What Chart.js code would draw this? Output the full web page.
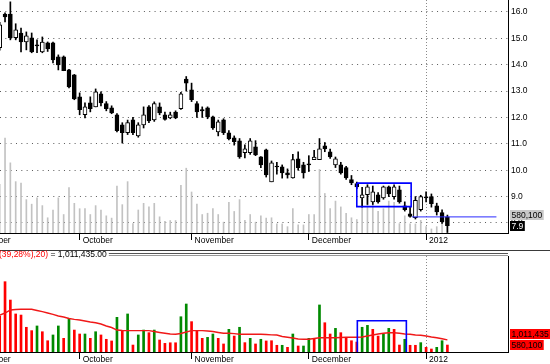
<!DOCTYPE html>
<html lang="en">
<head>
<meta charset="UTF-8">
<title>Price and volume</title>
<script src="https://cdn.jsdelivr.net/npm/chart.js"></script>
<style>
  html, body { margin: 0; padding: 0; background: #fff; }
  #wrap { position: relative; width: 550px; height: 364px; overflow: hidden; }
  #top { position: absolute; left: 0; top: 0; }
  #bot { position: absolute; left: 0; top: 248px; }
</style>
</head>
<body>
<div id="wrap">
  <canvas id="top" width="550" height="248"></canvas>
  <canvas id="bot" width="550" height="116"></canvas>
</div>
<script>
// one candle per trading day, index 0 = 12 Sep 2011
let open = [14.64, 15.92, 15.92, 15.02, 15.2, 14.86, 15.02, 14.73, 14.48, 14.83,
  14.83, 14.3, 14.3, 13.8, 13.61, 12.78, 12.1, 12.55, 12.4, 12.89,
  12.52, 12.36, 12.1, 11.72, 11.42, 11.91, 11.3, 11.72, 12.4, 11.91,
  12.4, 12.1, 11.98, 12.2, 12.33, 13.45, 13.05, 12.52, 12.3, 12.36,
  12.02, 11.45, 11.91, 11.42, 11.23, 11.11, 10.66, 10.66, 10.89, 10.51,
  10.77, 9.56, 10.15, 10.13, 9.9, 9.71, 10.43, 10.2, 10.22, 10.4,
  10.4, 10.92, 10.7, 10.2, 10.2, 10.1, 9.64, 9.49, 8.95, 9.07,
  8.8, 9.07, 8.95, 9.37, 9.0, 9.26, 8.65, 8.35, 8.2, 8.5,
  8.97, 9.0, 8.65, 8.39, 8.23];
let close = [15.51, 15.81, 15.02, 15.32, 14.86, 15.09, 14.48, 14.71, 14.86, 14.6,
  14.18, 13.99, 13.77, 13.16, 12.7, 12.29, 12.4, 12.33, 12.97, 12.55,
  12.33, 12.17, 11.5, 11.42, 11.8, 11.42, 11.72, 12.1, 11.87, 12.52,
  12.17, 11.92, 12.1, 11.98, 12.89, 13.3, 12.67, 12.21, 12.25, 12.02,
  11.6, 11.83, 11.42, 11.19, 11.08, 10.5, 10.81, 11.11, 10.58, 10.2,
  9.82, 10.28, 10.12, 9.9, 9.82, 10.4, 10.1, 9.9, 10.2, 10.5,
  10.81, 10.81, 10.5, 10.43, 9.9, 9.71, 9.52, 9.37, 9.07, 9.37,
  9.18, 8.8, 9.37, 9.1, 9.37, 8.8, 8.5, 8.25, 8.86, 9.0,
  8.95, 8.73, 8.42, 8.05, 7.9];
let high = [15.6, 15.96, 16.38, 15.55, 15.39, 15.24, 15.2, 14.94, 15.05, 14.86,
  14.86, 14.37, 14.33, 13.82, 13.63, 12.93, 12.55, 12.78, 13.08, 12.97,
  12.6, 12.44, 12.15, 11.8, 11.9, 12.0, 11.8, 12.4, 12.45, 12.59,
  12.55, 12.2, 12.2, 12.25, 12.95, 13.55, 13.3, 12.6, 12.4, 12.4,
  12.05, 11.9, 11.95, 11.5, 11.3, 11.2, 10.96, 11.2, 11.12, 10.52,
  10.8, 10.35, 10.3, 10.2, 10.05, 10.6, 10.7, 10.3, 10.55, 10.75,
  11.2, 11.05, 10.8, 10.5, 10.3, 10.15, 9.8, 9.55, 9.35, 9.45,
  9.4, 9.15, 9.4, 9.4, 9.45, 9.4, 8.8, 8.62, 9.0, 9.05,
  9.18, 9.1, 8.75, 8.5, 8.3];
let low = [14.55, 15.62, 14.94, 14.94, 14.48, 14.56, 14.45, 14.45, 14.45, 14.5,
  14.07, 13.8, 13.77, 13.12, 12.67, 12.1, 11.98, 12.21, 12.4, 12.44,
  12.25, 12.14, 11.45, 11.03, 11.35, 11.35, 11.25, 11.6, 11.8, 11.85,
  12.1, 11.9, 11.95, 11.95, 12.3, 13.0, 12.6, 12.0, 12.0, 11.95,
  11.55, 11.3, 11.35, 11.15, 10.95, 10.45, 10.47, 10.6, 10.55, 10.1,
  9.74, 9.56, 9.85, 9.7, 9.7, 9.7, 10.0, 9.7, 9.95, 10.4,
  10.4, 10.7, 10.45, 10.1, 9.85, 9.65, 9.45, 9.3, 8.6, 8.7,
  8.7, 8.75, 8.9, 9.0, 8.9, 8.75, 8.45, 8.22, 8.15, 8.45,
  8.8, 8.6, 8.3, 7.98, 7.64];
let volume = [3000000, 5860000, 4330000, 3170000, 3080000, 2060000, 1780000, 2170000, 1690000, 940000,
  1420000, 2170000, 1140000, 2810000, 1830000, 1500000, 1500000, 1140000, 1690000, 1420000,
  1060000, 920000, 2890000, 1750000, 3170000, 580000, 1420000, 1830000, 1610000, 1830000,
  1000000, 720000, 770000, 770000, 2940000, 4000000, 2530000, 1780000, 1140000, 1220000,
  1500000, 1140000, 670000, 1890000, 1330000, 2060000, 780000, 1140000, 670000, 1060000,
  920000, 940000, 560000, 560000, 390000, 1500000, 500000, 500000, 1140000, 1140000,
  3920000, 2440000, 1500000, 1970000, 1610000, 1220000, 940000, 830000, 2060000, 2220000,
  1890000, 1330000, 1500000, 1970000, 1890000, 580000, 1060000, 560000, 560000, 780000,
  390000, 250000, 390000, 940000, 580100];
// 1 = green volume bar, 0 = red
let volUp = [0, 0, 0, 0, 0, 0, 0, 1, 0, 0,
  1, 1, 0, 1, 0, 0, 1, 0, 1, 0,
  0, 0, 1, 0, 1, 0, 1, 1, 0, 1,
  0, 0, 0, 0, 1, 1, 0, 0, 0, 1,
  1, 0, 0, 1, 0, 1, 0, 1, 0, 1,
  0, 0, 0, 1, 0, 1, 0, 1, 1, 0,
  1, 0, 0, 1, 0, 0, 0, 0, 1, 1,
  0, 0, 1, 1, 0, 0, 1, 0, 0, 1,
  0, 0, 1, 1, 0];
// 20 day volume average as drawn
let volMA = [3080000, 3250000, 3500000, 3540000, 3560000, 3560000, 3560000, 3460000, 3360000, 3250000,
  3130000, 3000000, 2920000, 2790000, 2720000, 2670000, 2580000, 2500000, 2440000, 2330000,
  2170000, 2040000, 1830000, 1790000, 1780000, 1780000, 1780000, 1780000, 1780000, 1710000,
  1630000, 1560000, 1500000, 1480000, 1540000, 1670000, 1780000, 1780000, 1780000, 1750000,
  1710000, 1630000, 1560000, 1560000, 1530000, 1480000, 1480000, 1480000, 1480000, 1480000,
  1460000, 1430000, 1420000, 1290000, 1230000, 1170000, 1080000, 1060000, 1060000, 1130000,
  1190000, 1190000, 1190000, 1190000, 1210000, 1230000, 1230000, 1230000, 1250000, 1330000,
  1420000, 1500000, 1560000, 1610000, 1610000, 1560000, 1500000, 1480000, 1420000, 1390000,
  1330000, 1250000, 1190000, 1100000, 1011435];

let monthTicks = [-6.3, 15, 36, 58, 80];
let monthLabels = ['September', 'October', 'November', 'December', '2012'];
let yearTick = 80;
let priceTicks = [8, 9, 10, 11, 12, 13, 14, 15, 16];

// drawn objects: box over the December range, support line after it
let boxDays = [67, 77.2];
let boxPrices = [9.51, 8.62];
let boxVolDays = [67.1, 76.3];
let boxVolTop = 2610000;
let lineDays = [77.35, 93.2];
let linePrice = 8.23;

let maTitle = ['(39,28%),20)', ' = 1,011,435.00'];

const FONT_FAMILY = 'Arial, "Liberation Sans", sans-serif';
const FONT_SIZE = 8.5;
const FONT = FONT_SIZE + 'px ' + FONT_FAMILY;
Chart.defaults.font.family = FONT_FAMILY;
Chart.defaults.font.size = FONT_SIZE;
Chart.defaults.color = '#000';

const X_MIN = 0.056, X_MAX = 95.37;
let days = open.map((v, i) => i);
let last = days.length - 1;

function fmt(n) { return Math.round(n).toLocaleString('en-US'); }

function tag(ctx, x, yc, text, bg, fg) {
    ctx.save();
    ctx.font = FONT;
    let w = ctx.measureText(text).width + 3;
    ctx.fillStyle = bg;
    ctx.fillRect(x, Math.round(yc - 5), w, 10);
    ctx.fillStyle = fg;
    ctx.textBaseline = 'middle';
    ctx.fillText(text, x + 1.5, Math.round(yc - 5) + 5.5);
    ctx.restore();
}

function xScale(height, pad) {
    return {
        type: 'linear', min: X_MIN, max: X_MAX, offset: false,
        afterBuildTicks: s => { s.ticks = monthTicks.map(v => ({ value: v })); },
        ticks: {
            autoSkip: false, maxRotation: 0, align: 'start', labelOffset: 3, padding: pad,
            callback: (v, i) => monthLabels[i]
        },
        grid: {
            offset: false,
            color: c => (c.tick && c.tick.value === yearTick) ? '#8a8a8a' : 'rgba(0,0,0,0)',
            tickColor: '#000', tickLength: 7, lineWidth: 1
        },
        border: { color: '#000', dash: [1, 2] },
        afterFit: s => { s.height = height; s.paddingLeft = 0; s.paddingRight = 0; }
    };
}

// top panel: candles over grey volume
let topTags = {
    id: 'topTags',
    afterDraw(chart) {
        let { ctx, chartArea, scales } = chart;
        let yc = scales.y.getPixelForValue(close[last]);
        tag(ctx, chartArea.right + 2, yc - 11, fmt(volume[last]), '#c8c8c8', '#000');
        tag(ctx, chartArea.right + 2, yc, close[last].toFixed(1), '#000', '#fff');
    }
};

new Chart(document.getElementById('top'), {
    type: 'bar',
    data: {
        datasets: [
            {
                label: 'volume', yAxisID: 'yv', order: 5, grouped: false,
                data: days.map(i => ({ x: i, y: volume[i] })),
                backgroundColor: '#c2c2c2', barThickness: 1
            },
            {
                label: 'range', yAxisID: 'y', order: 4, grouped: false,
                data: days.map(i => ({ x: i, y: [low[i], high[i]] })),
                backgroundColor: '#000', barThickness: 1
            },
            {
                label: 'body', yAxisID: 'y', order: 3, grouped: false,
                data: days.map(i => ({ x: i, y: [open[i], close[i]] })),
                backgroundColor: days.map(i => close[i] >= open[i] ? '#fff' : '#000'),
                borderColor: '#000', borderWidth: 1, borderSkipped: false,
                barThickness: 4, minBarLength: 1
            },
            {
                type: 'line', label: 'box', yAxisID: 'y', order: 1,
                data: [
                    { x: boxDays[0], y: boxPrices[0] }, { x: boxDays[1], y: boxPrices[0] },
                    { x: boxDays[1], y: boxPrices[1] }, { x: boxDays[0], y: boxPrices[1] },
                    { x: boxDays[0], y: boxPrices[0] }
                ],
                borderColor: '#0000ff', borderWidth: 1.6, pointRadius: 0, tension: 0
            },
            {
                type: 'line', label: 'support', yAxisID: 'y', order: 2,
                data: [{ x: lineDays[0], y: linePrice }, { x: lineDays[1], y: linePrice }],
                borderColor: '#2a2aff', borderWidth: 1, pointRadius: 0
            }
        ]
    },
    options: {
        responsive: false, animation: false,
        layout: { padding: 0 },
        plugins: { legend: { display: false }, tooltip: { enabled: false } },
        scales: {
            x: xScale(15, -4),
            y: {
                type: 'linear', position: 'right', min: 7.62, max: 16.45,
                afterBuildTicks: s => { s.ticks = priceTicks.map(v => ({ value: v })); },
                ticks: { padding: 3, callback: v => v.toFixed(1) },
                grid: { color: '#5a5a5a', drawTicks: false },
                border: { color: '#000', dash: [1, 4.33] },
                afterFit: s => { s.width = 42; s.paddingTop = 0; s.paddingBottom = 0; }
            },
            yv: { display: false, min: 0, max: 14380000 }
        }
    },
    plugins: [topTags]
});

// bottom panel: coloured volume with its average
let botDecor = {
    id: 'botDecor',
    afterDraw(chart) {
        let { ctx, chartArea, scales, width } = chart;
        ctx.save();
        ctx.lineWidth = 1;
        ctx.strokeStyle = '#3a3a3a';
        ctx.beginPath(); ctx.moveTo(0, 2.5); ctx.lineTo(width, 2.5); ctx.stroke();

        ctx.font = FONT;
        ctx.textBaseline = 'middle';
        let ty = chartArea.top - 1;
        let x = -1;
        ctx.fillStyle = '#ff0000';
        ctx.fillText(maTitle[0], x, ty);
        x += ctx.measureText(maTitle[0]).width;
        ctx.fillStyle = '#000';
        ctx.fillText(maTitle[1], x, ty);
        x += ctx.measureText(maTitle[1]).width + 2;

        ctx.strokeStyle = '#555';
        ctx.beginPath(); ctx.moveTo(x, chartArea.top - 2.5); ctx.lineTo(chartArea.right, chartArea.top - 2.5); ctx.stroke();
        ctx.strokeStyle = '#999';
        ctx.beginPath(); ctx.moveTo(x, chartArea.top - 0.5); ctx.lineTo(chartArea.right, chartArea.top - 0.5); ctx.stroke();
        ctx.restore();

        let yv = scales.y.getPixelForValue(volume[last]);
        tag(ctx, chartArea.right + 2, yv - 11, fmt(volMA[last]), '#ff0000', '#000');
        tag(ctx, chartArea.right + 2, yv, fmt(volume[last]), '#ff0000', '#000');
    }
};

new Chart(document.getElementById('bot'), {
    type: 'bar',
    data: {
        datasets: [
            {
                label: 'volume', order: 3, grouped: false,
                data: days.map(i => ({ x: i, y: volume[i] })),
                backgroundColor: days.map(i => volUp[i] ? '#008a00' : '#ff0000'),
                barThickness: 2
            },
            {
                type: 'line', label: 'average', order: 2,
                data: days.map(i => ({ x: i, y: volMA[i] })),
                borderColor: '#f01818', borderWidth: 1.4, pointRadius: 0, tension: 0
            },
            {
                type: 'line', label: 'box', order: 1,
                data: [
                    { x: boxVolDays[0], y: 0 }, { x: boxVolDays[0], y: boxVolTop },
                    { x: boxVolDays[1], y: boxVolTop }, { x: boxVolDays[1], y: 0 }
                ],
                borderColor: '#0000ff', borderWidth: 1.6, pointRadius: 0, tension: 0
            }
        ]
    },
    options: {
        responsive: false, animation: false,
        layout: { padding: { top: 8 } },
        plugins: { legend: { display: false }, tooltip: { enabled: false } },
        scales: {
            x: xScale(12, -4),
            y: {
                type: 'linear', position: 'right', min: 0, max: 8000000,
                ticks: { display: false },
                grid: { display: false },
                border: { color: '#000' },
                afterFit: s => { s.width = 42; s.paddingTop = 0; s.paddingBottom = 0; }
            }
        }
    },
    plugins: [botDecor]
});
</script>
</body>
</html>
